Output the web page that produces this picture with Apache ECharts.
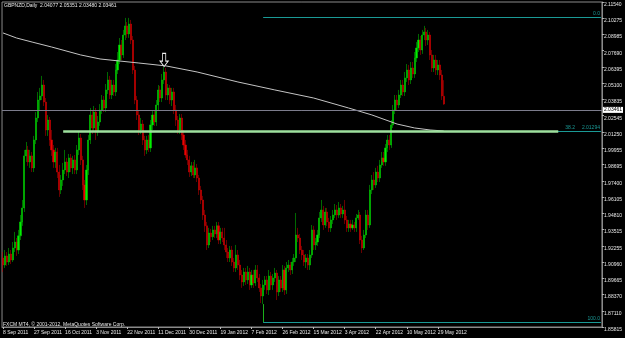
<!DOCTYPE html>
<html><head><meta charset="utf-8">
<script src="https://cdn.jsdelivr.net/npm/echarts@6/dist/echarts.min.js"></script>
<style>html,body{margin:0;padding:0;background:#000}#c{width:625px;height:338px}</style>
</head><body><div id="c"></div>
<script>
// ---- data ----
const startDate = '2011-09-08';
const skipDates = ['2011-12-25', '2012-01-01'];
// [open, close, low, high]
const candles = [
[1.9128,1.9072,1.9017,1.9175],[1.9072,1.9144,1.9049,1.9191],[1.9144,1.9096,1.9065,1.9175],[1.9096,1.9159,1.9072,1.9207],
[1.9159,1.9112,1.9080,1.9191],[1.9112,1.9207,1.9096,1.9254],[1.9207,1.9254,1.9175,1.9334],[1.9254,1.9191,1.9144,1.9286],
[1.9191,1.9303,1.9159,1.9350],[1.9303,1.9413,1.9270,1.9468],[1.9413,1.9524,1.9382,1.9587],[1.9524,1.9936,1.9492,1.9983],
[1.9936,1.9983,1.9888,2.0046],[1.9983,1.9888,1.9857,2.0015],[1.9888,1.9936,1.9841,1.9983],[1.9936,1.9841,1.9808,1.9967],
[1.9841,2.0062,1.9808,2.0094],[2.0062,2.0236,2.0030,2.0283],[2.0236,2.0378,2.0204,2.0442],[2.0378,2.0410,2.0299,2.0474],
[2.0410,2.0497,2.0378,2.0569],[2.0497,2.0362,2.0331,2.0537],[2.0362,2.0141,2.0094,2.0394],[2.0141,2.0220,2.0094,2.0259],
[2.0220,2.0062,2.0015,2.0244],[2.0062,1.9983,1.9936,2.0141],[1.9983,1.9888,1.9841,2.0022],[1.9888,1.9967,1.9841,1.9999],
[1.9967,1.9808,1.9761,1.9999],[1.9808,1.9666,1.9611,1.9864],[1.9666,1.9745,1.9634,1.9785],[1.9745,1.9824,1.9698,1.9880],
[1.9824,1.9888,1.9792,1.9983],[1.9888,1.9808,1.9777,1.9920],[1.9808,1.9920,1.9761,1.9951],[1.9920,1.9841,1.9808,1.9951],
[1.9841,1.9904,1.9792,1.9936],[1.9904,1.9824,1.9792,1.9943],[1.9824,1.9983,1.9792,2.0022],[1.9983,2.0078,1.9943,2.0125],
[2.0078,1.9904,1.9864,2.0109],[1.9904,1.9706,1.9666,1.9936],[1.9706,1.9587,1.9524,1.9745],[1.9587,1.9824,1.9547,1.9864],
[1.9824,2.0062,1.9785,2.0101],[2.0062,2.0260,2.0030,2.0315],[2.0260,2.0157,2.0109,2.0299],[2.0157,2.0283,2.0125,2.0331],
[2.0283,2.0125,2.0062,2.0315],[2.0125,2.0204,2.0094,2.0252],[2.0204,2.0299,2.0173,2.0346],[2.0299,2.0378,2.0267,2.0418],
[2.0378,2.0315,2.0283,2.0410],[2.0315,2.0458,2.0283,2.0505],[2.0458,2.0537,2.0426,2.0600],[2.0537,2.0418,2.0386,2.0569],
[2.0418,2.0497,2.0386,2.0537],[2.0497,2.0442,2.0410,2.0537],[2.0442,2.0616,2.0410,2.0663],[2.0616,2.0695,2.0584,2.0758],
[2.0695,2.0814,2.0663,2.0869],[2.0814,2.0735,2.0695,2.0853],[2.0735,2.0893,2.0711,2.0933],[2.0893,2.0965,2.0853,2.1028],
[2.0965,2.0901,2.0870,2.0996],[2.0901,2.0980,2.0870,2.1028],[2.0980,2.0853,2.0821,2.1012],[2.0853,2.0616,2.0584,2.0885],
[2.0616,2.0378,2.0346,2.0648],[2.0378,2.0260,2.0220,2.0410],[2.0260,2.0141,2.0101,2.0299],[2.0141,2.0188,2.0109,2.0236],
[2.0188,2.0062,2.0022,2.0220],[2.0062,1.9983,1.9936,2.0094],[1.9983,2.0062,1.9951,2.0094],[2.0062,1.9999,1.9967,2.0101],
[1.9999,2.0181,1.9967,2.0220],[2.0181,2.0260,2.0141,2.0299],[2.0260,2.0204,2.0173,2.0299],[2.0204,2.0339,2.0173,2.0378],
[2.0339,2.0458,2.0299,2.0497],[2.0458,2.0394,2.0362,2.0490],[2.0394,2.0537,2.0362,2.0584],[2.0537,2.0600,2.0505,2.0640],
[2.0600,2.0418,2.0378,2.0632],[2.0418,2.0474,2.0378,2.0505],[2.0474,2.0378,2.0346,2.0497],[2.0378,2.0442,2.0331,2.0474],
[2.0442,2.0299,2.0267,2.0474],[2.0299,2.0220,2.0173,2.0339],[2.0220,2.0141,2.0109,2.0252],[2.0141,2.0236,2.0109,2.0267],
[2.0236,2.0101,2.0062,2.0267],[2.0101,2.0022,1.9983,2.0141],[2.0022,1.9943,1.9920,2.0062],[1.9943,1.9904,1.9864,1.9983],
[1.9904,1.9808,1.9769,1.9936],[1.9808,1.9857,1.9777,1.9888],[1.9857,1.9785,1.9761,1.9888],[1.9785,1.9841,1.9761,1.9904],
[1.9841,1.9761,1.9729,1.9872],[1.9761,1.9666,1.9627,1.9785],[1.9666,1.9587,1.9555,1.9698],[1.9587,1.9468,1.9429,1.9619],
[1.9468,1.9382,1.9334,1.9508],[1.9382,1.9231,1.9191,1.9413],[1.9231,1.9326,1.9207,1.9366],[1.9326,1.9295,1.9254,1.9358],
[1.9295,1.9350,1.9270,1.9382],[1.9350,1.9318,1.9286,1.9382],[1.9318,1.9382,1.9286,1.9413],[1.9382,1.9270,1.9238,1.9413],
[1.9270,1.9334,1.9238,1.9366],[1.9334,1.9286,1.9254,1.9366],[1.9286,1.9231,1.9191,1.9366],[1.9231,1.9175,1.9128,1.9270],
[1.9175,1.9128,1.9096,1.9207],[1.9128,1.9191,1.9096,1.9223],[1.9191,1.9096,1.9065,1.9223],[1.9096,1.9049,1.9017,1.9128],
[1.9049,1.9152,1.9017,1.9231],[1.9152,1.9072,1.9033,1.9191],[1.9072,1.8993,1.8954,1.9112],[1.8993,1.8938,1.8891,1.9033],
[1.8938,1.9017,1.8907,1.9049],[1.9017,1.8954,1.8914,1.9049],[1.8954,1.9017,1.8922,1.9065],[1.9017,1.8914,1.8875,1.9049],
[1.8914,1.8993,1.8891,1.9033],[1.8993,1.8930,1.8891,1.9033],[1.8930,1.9033,1.8907,1.9072],[1.9033,1.8970,1.8938,1.9072],
[1.8970,1.8891,1.8859,1.9001],[1.8891,1.8827,1.8771,1.8922],[1.8827,1.8914,1.8763,1.8954],[1.8914,1.8954,1.8875,1.8985],
[1.8954,1.8875,1.8843,1.8985],[1.8875,1.8985,1.8835,1.9033],[1.8985,1.8914,1.8875,1.9017],[1.8914,1.8970,1.8875,1.9001],
[1.8970,1.9009,1.8938,1.9049],[1.9009,1.8859,1.8795,1.9033],[1.8859,1.8954,1.8827,1.8985],[1.8954,1.8891,1.8859,1.8985],
[1.8891,1.9033,1.8859,1.9072],[1.9033,1.8875,1.8835,1.9065],[1.8875,1.9049,1.8843,1.9096],[1.9049,1.9072,1.9017,1.9112],
[1.9072,1.9033,1.8993,1.9096],[1.9033,1.9096,1.9001,1.9128],[1.9096,1.9128,1.9065,1.9159],[1.9128,1.9310,1.9096,1.9484],
[1.9310,1.9286,1.9254,1.9366],[1.9286,1.9191,1.9159,1.9318],[1.9191,1.9152,1.9112,1.9223],[1.9152,1.9096,1.9065,1.9191],
[1.9096,1.9128,1.9049,1.9159],[1.9128,1.9072,1.9033,1.9159],[1.9072,1.9152,1.9033,1.9191],[1.9152,1.9350,1.9128,1.9389],
[1.9350,1.9231,1.9191,1.9382],[1.9231,1.9254,1.9191,1.9286],[1.9254,1.9310,1.9223,1.9350],[1.9310,1.9445,1.9286,1.9492],
[1.9445,1.9508,1.9413,1.9587],[1.9508,1.9389,1.9350,1.9540],[1.9389,1.9492,1.9366,1.9524],[1.9492,1.9413,1.9382,1.9524],
[1.9413,1.9366,1.9334,1.9445],[1.9366,1.9429,1.9334,1.9460],[1.9429,1.9468,1.9397,1.9508],[1.9468,1.9508,1.9445,1.9555],
[1.9508,1.9468,1.9429,1.9547],[1.9468,1.9524,1.9445,1.9571],[1.9524,1.9476,1.9445,1.9555],[1.9476,1.9508,1.9445,1.9540],
[1.9508,1.9429,1.9397,1.9587],[1.9429,1.9366,1.9334,1.9460],[1.9366,1.9397,1.9334,1.9429],[1.9397,1.9366,1.9334,1.9429],
[1.9366,1.9389,1.9350,1.9429],[1.9389,1.9366,1.9334,1.9413],[1.9366,1.9445,1.9334,1.9476],[1.9445,1.9468,1.9429,1.9508],
[1.9468,1.9270,1.9238,1.9492],[1.9270,1.9207,1.9167,1.9303],[1.9207,1.9310,1.9191,1.9350],[1.9310,1.9468,1.9286,1.9508],
[1.9468,1.9389,1.9350,1.9508],[1.9389,1.9666,1.9366,1.9706],[1.9666,1.9745,1.9634,1.9785],[1.9745,1.9706,1.9666,1.9808],
[1.9706,1.9808,1.9682,1.9841],[1.9808,1.9761,1.9729,1.9857],[1.9761,1.9864,1.9729,1.9904],[1.9864,1.9920,1.9841,1.9967],
[1.9920,1.9888,1.9857,1.9967],[1.9888,1.9999,1.9857,2.0030],[1.9999,2.0062,1.9967,2.0101],[2.0062,2.0022,1.9983,2.0101],
[2.0022,2.0181,1.9999,2.0220],[2.0181,2.0299,2.0157,2.0339],[2.0299,2.0378,2.0267,2.0418],[2.0378,2.0339,2.0299,2.0418],
[2.0339,2.0418,2.0315,2.0458],[2.0418,2.0497,2.0394,2.0537],[2.0497,2.0442,2.0410,2.0537],[2.0442,2.0553,2.0410,2.0600],
[2.0553,2.0616,2.0521,2.0663],[2.0616,2.0537,2.0497,2.0656],[2.0537,2.0632,2.0505,2.0679],[2.0632,2.0584,2.0553,2.0679],
[2.0584,2.0711,2.0553,2.0758],[2.0711,2.0790,2.0679,2.0837],[2.0790,2.0853,2.0758,2.0901],[2.0853,2.0774,2.0735,2.0885],
[2.0774,2.0893,2.0743,2.0933],[2.0893,2.0917,2.0853,2.0965],[2.0917,2.0853,2.0806,2.0949],[2.0853,2.0893,2.0814,2.0933],
[2.0893,2.0735,2.0695,2.0917],[2.0735,2.0632,2.0600,2.0774],[2.0632,2.0695,2.0600,2.0735],[2.0695,2.0616,2.0576,2.0735],
[2.0616,2.0656,2.0576,2.0695],[2.0656,2.0576,2.0537,2.0695],[2.0576,2.0410,2.0378,2.0616],[2.04077,2.03461,2.03400,2.05351]
];
// moving-average line, sampled at bar indices
const maIndex  = [0, 7, 15, 25, 40, 50, 70, 84, 100, 121, 140, 160, 178, 190, 203, 212, 220, 227];
const maValues = [2.0909, 2.0869, 2.0837, 2.0798, 2.0735, 2.0703, 2.0671, 2.0648, 2.0600, 2.0521, 2.0458, 2.0394, 2.0315, 2.0260, 2.0188, 2.0157, 2.0141, 2.0133];
// price scale
const yMin = 1.85815, yMax = 2.11540;
const yTickLabels = ['1.85815','1.87110','1.88370','1.89665','1.90960','1.92255','1.93515','1.94810','1.96105','1.97400',
  '1.98695','1.99955','2.01250','2.02545','2.03835','2.05100','2.06395','2.07690','2.08985','2.10275','2.11540'];
const lastPrice = 2.03461;
const titleText = 'GBPNZD,Daily  2.04077 2.05351 2.03480 2.03461';
const footerText = 'FXCM MT4, \u00a9 2001-2012, MetaQuotes Software Corp.';
// Fibonacci retracement levels and the horizontal support line
const fibStartIndex = 134;
const fibLevelNames = ['0.0', '38.2', '100.0'];
const fibLevelValues = [2.1035, 2.01294, 1.8621];
const swingLowValue = 1.8763;
const supportValue = 2.0129;
const supportFrom = 31, supportTo = 286;
const arrowIndex = 83, arrowValue = 2.0640;
const totalSlots = 309;

// ---- build categories (Sun-Fri trading days) ----
const months = ['Jan','Feb','Mar','Apr','May','Jun','Jul','Aug','Sep','Oct','Nov','Dec'];
const categories = [];
{
  let d = new Date(startDate + 'T00:00:00Z');
  while (categories.length < candles.length) {
    const iso = d.toISOString().slice(0, 10);
    if (d.getUTCDay() !== 6 && !skipDates.includes(iso)) {
      categories.push(d.getUTCDate() + ' ' + months[d.getUTCMonth()] + ' ' + d.getUTCFullYear());
    }
    d = new Date(d.getTime() + 86400000);
  }
  while (categories.length < totalSlots) categories.push('');
}
const lastSlot = totalSlots - 1;
const yStep = (yMax - yMin) / (yTickLabels.length - 1);
const FONT = 'Liberation Sans';
const teal = '#1a9a96';

const fibLines = fibLevelValues.map((v, k) => [
  { coord: [fibStartIndex, v], lineStyle: { color: teal, width: 1, type: 'solid' },
    label: { show: true, position: 'insideEndTop', distance: 1,
      formatter: k === 1 ? fibLevelNames[k] + '     ' + v.toFixed(5) : fibLevelNames[k],
      color: teal, fontSize: 5, fontFamily: FONT } },
  { coord: [lastSlot, v] }
]);

const chart = echarts.init(document.getElementById('c'), null, { renderer: 'canvas' });
chart.setOption({
  animation: false,
  backgroundColor: '#000',
  title: [
    { text: titleText, left: 4, top: 3, padding: 0, textStyle: { color: '#e8e8e8', fontSize: 5, fontWeight: 'normal', fontFamily: FONT } },
    { text: footerText, left: 3, top: 322, padding: 0, textStyle: { color: '#e8e8e8', fontSize: 5, fontWeight: 'normal', fontFamily: FONT } }
  ],
  grid: { left: 2, right: 19, top: 2, bottom: 11, show: true, borderColor: '#8a8a8a', borderWidth: 1, backgroundColor: '#000' },
  xAxis: {
    type: 'category', data: categories, boundaryGap: true,
    axisLine: { show: true, lineStyle: { color: '#8a8a8a' } },
    axisTick: { show: true, alignWithLabel: true, length: 2, lineStyle: { color: '#bbb' },
      interval: (i, v) => v !== '' && i % 16 === 0 },
    axisLabel: { show: true, color: '#e8e8e8', fontSize: 5, fontFamily: FONT, align: 'left', margin: 3,
      interval: (i, v) => v !== '' && i % 16 === 0, hideOverlap: false },
    splitLine: { show: false }
  },
  yAxis: {
    type: 'value', position: 'right', min: yMin, max: yMax, interval: yStep, scale: true,
    axisLine: { show: true, lineStyle: { color: '#8a8a8a' } },
    axisTick: { show: true, length: 2, lineStyle: { color: '#bbb' } },
    axisLabel: { color: '#e8e8e8', fontSize: 5, fontFamily: FONT, margin: 2, verticalAlign: 'top',
      showMinLabel: true, showMaxLabel: true, hideOverlap: false,
      formatter: v => yTickLabels[Math.round((v - yMin) / yStep)] || '' },
    splitLine: { show: false }
  },
  series: [
    {
      type: 'candlestick', data: candles, barWidth: 1.6,
      itemStyle: { color: '#00f000', color0: '#f00000', borderColor: '#00d000', borderColor0: '#d00000', borderWidth: 0.5 },
      markLine: {
        silent: true, symbol: ['none', 'none'], animation: false,
        lineStyle: { type: 'solid' },
        data: [
          { yAxis: lastPrice, lineStyle: { color: '#7c7c8c', width: 1, type: 'solid' },
            label: { show: true, position: 'end', distance: 1, formatter: lastPrice.toFixed(5),
              backgroundColor: '#fff', color: '#000', fontSize: 5, fontFamily: FONT, padding: [1, 1, 0, 1] } },
          ...fibLines,
          [ { coord: [fibStartIndex, swingLowValue], lineStyle: { color: '#1ab01a', width: 1, type: 'solid' }, label: { show: false } },
            { coord: [fibStartIndex, fibLevelValues[2]] } ],
          [ { coord: [supportFrom, supportValue], lineStyle: { color: '#9ee09e', width: 2.5, type: 'solid' }, label: { show: false } },
            { coord: [supportTo, supportValue] } ]
        ]
      },
      markPoint: {
        silent: true,
        data: [ { coord: [arrowIndex, arrowValue], symbol: 'path://M3,0 L7,0 L7,9 L10,9 L5,15 L0,9 L3,9 Z',
          symbolSize: [8, 13], symbolOffset: [0, -7],
          itemStyle: { color: '#000', borderColor: '#f0f0f0', borderWidth: 1 }, label: { show: false } } ]
      }
    },
    {
      type: 'line', data: maIndex.map((x, k) => [x, maValues[k]]), symbol: 'none', silent: true,
      lineStyle: { color: '#c4c4c4', width: 1 }, z: 3
    }
  ]
});
</script></body></html>
